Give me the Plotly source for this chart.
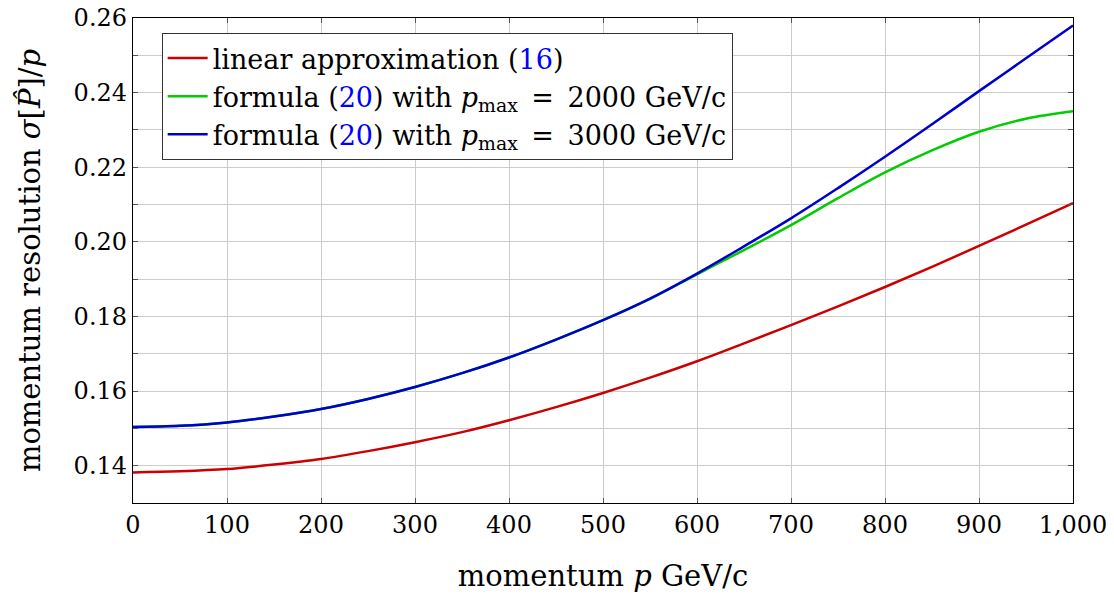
import plotly.graph_objects as go

p = [0, 50, 100, 150, 200, 250, 300, 350, 400, 450, 500,
     550, 600, 650, 700, 750, 800, 850, 900, 950, 1000]

linear = [0.1382, 0.1385, 0.1391, 0.1403, 0.1418, 0.1439, 0.1463, 0.1490, 0.1522, 0.1557, 0.1595,
          0.1636, 0.1680, 0.1728, 0.1777, 0.1827, 0.1879, 0.1933, 0.1989, 0.2046, 0.2104]

pmax3000 = [0.1504, 0.1507, 0.1516, 0.1532, 0.1552, 0.1579, 0.1611, 0.1648, 0.1690, 0.1738, 0.1790,
            0.1848, 0.1915, 0.1988, 0.2063, 0.2144, 0.2228, 0.2315, 0.2404, 0.2492, 0.2580]

pmax2000 = [0.1504, 0.1507, 0.1516, 0.1532, 0.1552, 0.1579, 0.1611, 0.1648, 0.1690, 0.1738, 0.1790,
            0.1847, 0.1913, 0.1978, 0.2045, 0.2117, 0.2186, 0.2245, 0.2295, 0.2330, 0.2350]

x_tickvals = [0, 100, 200, 300, 400, 500, 600, 700, 800, 900, 1000]
x_ticktext = ["0", "100", "200", "300", "400", "500", "600", "700", "800", "900", "1,000"]
y_tickvals = [0.14, 0.16, 0.18, 0.20, 0.22, 0.24, 0.26]
y_ticktext = ["0.14", "0.16", "0.18", "0.20", "0.22", "0.24", "0.26"]

names = [
    'linear approximation (<span style="color:#0000ff">16</span>)',
    'formula (<span style="color:#0000ff">20</span>) with <i>p</i><sub>max</sub>\u2002=\u20022000 GeV/c',
    'formula (<span style="color:#0000ff">20</span>) with <i>p</i><sub>max</sub>\u2002=\u20023000 GeV/c',
]
colors = ["#cc0000", "#00cc00", "#0000cc"]

FONT = "DejaVu Serif"

fig = go.Figure()
for ys, name, col in zip([linear, pmax2000, pmax3000], names, colors):
    fig.add_trace(go.Scatter(x=p, y=ys, mode="lines", name=name,
                             line=dict(color=col, width=2.5, shape="spline")))

fig.update_layout(
    width=1114, height=594,
    margin=dict(l=133, r=41, t=18, b=91, autoexpand=False),
    paper_bgcolor="white", plot_bgcolor="white",
    font=dict(family=FONT, size=24, color="black"),
    showlegend=True,
    legend=dict(x=0.0305, y=0.969, xanchor="left", yanchor="top",
                bgcolor="white", bordercolor="#333333", borderwidth=1,
                font=dict(family=FONT, size=27), tracegroupgap=0,
                itemwidth=40),
)
fig.update_xaxes(
    range=[0, 1000], tickvals=x_tickvals, ticktext=x_ticktext,
    showgrid=True, gridcolor="#cccccc", gridwidth=1,
    showline=True, linecolor="black", linewidth=1.3, mirror="ticks",
    ticks="inside", ticklen=5, tickcolor="#555555",
    zeroline=False, automargin=False,
    title=dict(text="momentum <i>p</i> GeV/c", standoff=27),
)
fig.update_yaxes(
    range=[0.13, 0.26], tickvals=y_tickvals, ticktext=y_ticktext,
    showgrid=True, gridcolor="#cccccc", gridwidth=1,
    minor=dict(dtick=0.01, tick0=0.13, showgrid=True, gridcolor="#cccccc",
               ticks="inside", ticklen=5, tickcolor="#555555"),
    showline=True, linecolor="black", linewidth=1.3, mirror="ticks",
    ticks="inside", ticklen=5, tickcolor="#555555",
    zeroline=False, automargin=False,
    title=dict(text="momentum resolution <i>σ</i>[<i>P̂</i>]/<i>p</i>", standoff=24),
)

fig.write_html("out.html")
